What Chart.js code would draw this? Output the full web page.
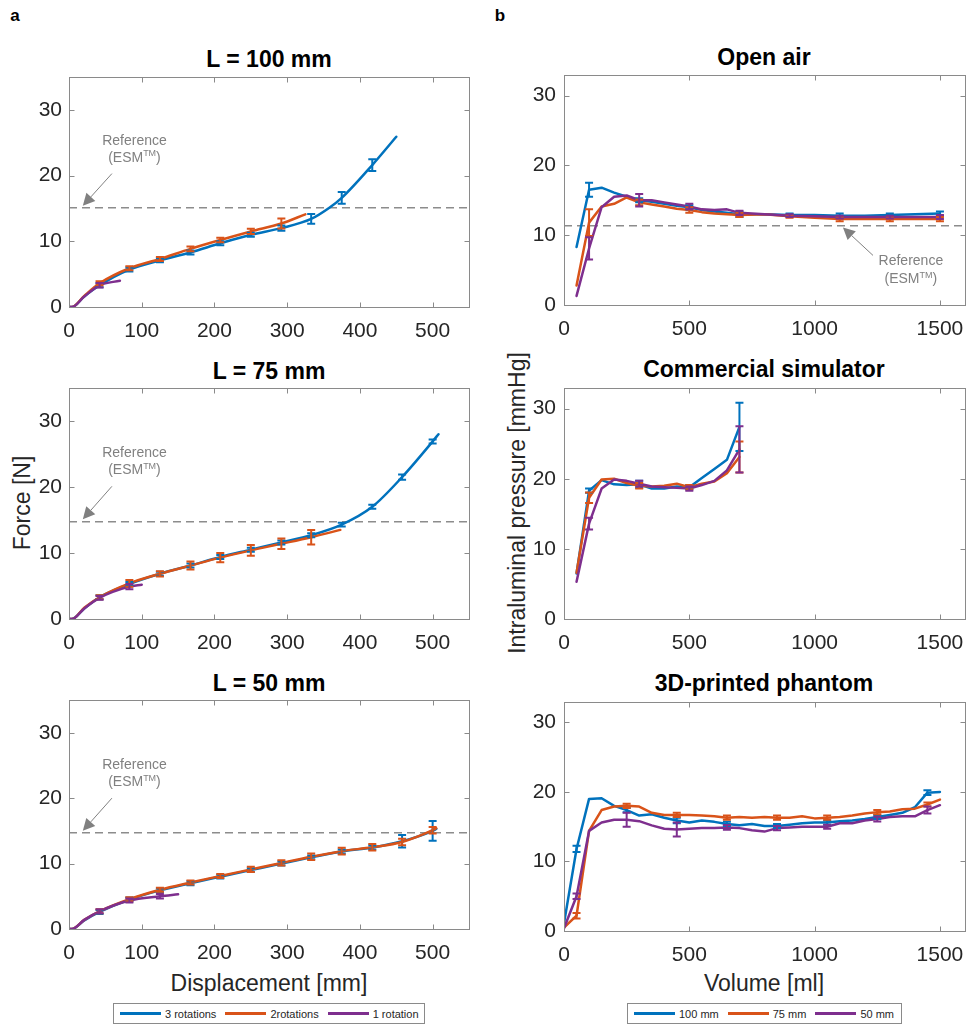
<!DOCTYPE html>
<html>
<head>
<meta charset="utf-8">
<script src="https://cdn.jsdelivr.net/npm/chart.js@4.4.0/dist/chart.umd.min.js"></script>
<style>
  html, body { margin: 0; padding: 0; background: #fff; overflow: hidden; }
  body { width: 970px; height: 1027px; position: relative; font-family: "Liberation Sans", Arial, Helvetica, sans-serif; color: #000; }
  canvas { position: absolute; }
  .txt { position: absolute; transform: translate(-50%, -50%); white-space: nowrap; line-height: 1; }
  .panel { font-weight: bold; font-size: 17px; }
  .title { font-weight: bold; font-size: 23px; }
  .axis { font-size: 23px; color: #262626; }
  .rot { transform: translate(-50%, -50%) rotate(-90deg); }
  .legend { position: absolute; height: 21px; border: 1px solid #8a8a8a; background: #fff; display: flex; align-items: center; font-size: 11px; color: #262626; box-sizing: border-box; padding-left: 6px; white-space: nowrap; }
  .legend .sample { flex: 0 0 41px; height: 2.5px; margin-right: 4px; }
  .legend .name { flex: 0 0 auto; margin-right: 9px; }
</style>
</head>
<body>

<div class="txt panel" style="left:15px; top:15px;">a</div>
<div class="txt panel" style="left:500px; top:15px;">b</div>

<div class="txt title" style="left:269px; top:59px;">L = 100 mm</div>
<div class="txt title" style="left:269px; top:371px;">L = 75 mm</div>
<div class="txt title" style="left:269px; top:683px;">L = 50 mm</div>
<div class="txt title" style="left:764px; top:57px;">Open air</div>
<div class="txt title" style="left:764px; top:369px;">Commercial simulator</div>
<div class="txt title" style="left:764px; top:683px;">3D-printed phantom</div>

<div class="txt axis rot" style="left:22px; top:503px;">Force [N]</div>
<div class="txt axis rot" style="left:517px; top:503px;">Intraluminal pressure [mmHg]</div>
<div class="txt axis" style="left:269px; top:983px;">Displacement [mm]</div>
<div class="txt axis" style="left:764px; top:983px;">Volume [ml]</div>

<canvas id="cL100"></canvas>
<canvas id="cL75"></canvas>
<canvas id="cL50"></canvas>
<canvas id="cOpen"></canvas>
<canvas id="cSim"></canvas>
<canvas id="cPhantom"></canvas>

<div class="legend" id="legLeft" style="left:113px; top:1003px; width:312px;"></div>
<div class="legend" id="legRight" style="left:627px; top:1003px; width:275px;"></div>

<script>
// series names and colours (MATLAB default order)
var seriesLeft = ['3 rotations', '2rotations', '1 rotation'];
var seriesRight = ['100 mm', '75 mm', '50 mm'];
var colors = ['#0072BD', '#D95319', '#7E2F8E'];

// axis ticks
var forceTicks = [0, 10, 20, 30];
var dispTicks = [0, 100, 200, 300, 400, 500];
var pressTicks = [0, 10, 20, 30];
var volTicks = [0, 500, 1000, 1500];

// ---- a: force vs displacement ----
// L = 100 mm
var d100Blue = [0, 4, 21, 42, 83, 125, 167, 208, 250, 292, 333, 358, 375, 417, 450];
var f100Blue = [0, 0, 1.6, 3.3, 5.7, 7.1, 8.3, 9.7, 11.0, 12.0, 13.4, 15.1, 16.6, 21.6, 25.9];
var d100Orange = [0, 4, 21, 42, 83, 125, 167, 208, 250, 292, 325];
var f100Orange = [0, 0, 1.7, 3.6, 5.9, 7.3, 8.85, 10.2, 11.5, 12.7, 14.1];
var d100Purple = [0, 4, 21, 42, 70];
var f100Purple = [0, 0, 1.6, 3.3, 4.0];
var errX100Blue = [42, 83, 125, 167, 208, 250, 292, 333, 375, 417];
var err100Blue = [0.3, 0.3, 0.3, 0.3, 0.3, 0.3, 0.4, 0.75, 0.9, 0.9];
var errX100Orange = [42, 83, 125, 167, 208, 250, 292];
var err100Orange = [0.3, 0.3, 0.3, 0.35, 0.35, 0.4, 0.75];
var errX100Purple = [42];
var err100Purple = [0.35];
var ref100 = 15.1;

// L = 75 mm
var d75Blue = [0, 4, 21, 42, 83, 125, 167, 208, 250, 292, 333, 375, 417, 458, 500, 508];
var f75Blue = [0, 0, 1.6, 3.3, 5.3, 6.85, 8.1, 9.4, 10.5, 11.6, 12.7, 14.3, 17.0, 21.5, 26.9, 28.0];
var d75Orange = [0, 4, 21, 42, 83, 125, 167, 208, 250, 292, 333, 373];
var f75Orange = [0, 0, 1.7, 3.3, 5.4, 6.85, 8.1, 9.3, 10.4, 11.4, 12.4, 13.5];
var d75Purple = [0, 4, 21, 42, 83, 100];
var f75Purple = [0, 0, 1.6, 3.2, 4.9, 5.2];
var errX75Blue = [42, 83, 125, 167, 208, 250, 292, 333, 375, 417, 458, 500];
var err75Blue = [0.3, 0.3, 0.3, 0.3, 0.3, 0.3, 0.3, 0.3, 0.3, 0.3, 0.4, 0.3];
var errX75Orange = [42, 83, 125, 167, 208, 250, 292, 333];
var err75Orange = [0.3, 0.5, 0.4, 0.6, 0.7, 0.8, 0.8, 1.1];
var errX75Purple = [42, 83];
var err75Purple = [0.3, 0.4];
var ref75 = 14.75;

// L = 50 mm
var d50Blue = [0, 4, 21, 42, 83, 125, 167, 208, 250, 292, 333, 375, 417, 458, 500, 505];
var f50Blue = [0, 0, 1.3, 2.6, 4.5, 5.9, 7.0, 8.0, 9.0, 10.0, 10.95, 11.85, 12.45, 13.4, 15.0, 15.3];
var d50Orange = [0, 4, 21, 42, 83, 125, 167, 208, 250, 292, 333, 375, 417, 458, 500, 505];
var f50Orange = [0, 0, 1.4, 2.7, 4.55, 6.0, 7.1, 8.1, 9.1, 10.1, 11.05, 11.9, 12.5, 13.3, 15.1, 15.4];
var d50Purple = [0, 4, 21, 42, 83, 125, 150];
var f50Purple = [0, 0, 1.4, 2.7, 4.35, 5.0, 5.3];
var errX50Blue = [42, 83, 125, 167, 208, 250, 292, 333, 375, 417, 458, 500];
var err50Blue = [0.3, 0.3, 0.3, 0.3, 0.3, 0.3, 0.3, 0.3, 0.3, 0.3, 0.95, 1.5];
var errX50Orange = [42, 83, 125, 167, 208, 250, 292, 333, 375, 417, 458, 500];
var err50Orange = [0.3, 0.3, 0.3, 0.3, 0.3, 0.4, 0.4, 0.5, 0.5, 0.5, 0.5, 0.5];
var errX50Purple = [42, 83, 125];
var err50Purple = [0.3, 0.3, 0.35];
var ref50 = 14.7;

// ---- b: pressure vs volume ----
// Open air
var volOpen = [50, 100, 150, 200, 250, 300, 350, 400, 450, 500, 550, 600, 650, 700, 800, 900, 1000, 1100, 1200, 1300, 1400, 1500];
var pOpenBlue = [8.3, 16.5, 16.8, 16.1, 15.5, 15.0, 14.8, 14.5, 14.2, 14.0, 13.6, 13.4, 13.2, 13.0, 13.0, 12.9, 12.9, 12.8, 12.8, 12.9, 13.0, 13.1];
var pOpenOrange = [2.8, 11.8, 14.1, 14.5, 15.4, 14.7, 14.4, 14.1, 13.8, 13.6, 13.3, 13.1, 13.0, 12.9, 13.0, 12.7, 12.5, 12.3, 12.3, 12.3, 12.3, 12.3];
var pOpenPurple = [1.3, 8.1, 14.0, 15.5, 15.7, 15.0, 15.0, 14.7, 14.4, 14.1, 13.7, 13.6, 13.7, 13.2, 13.0, 12.8, 12.7, 12.6, 12.6, 12.6, 12.6, 12.6];
var errXOpen = [100, 300, 500, 700, 900, 1100, 1300, 1500];
var errOpenBlue = [1.0, 0.3, 0.3, 0.4, 0.2, 0.3, 0.2, 0.3];
var errOpenOrange = [1.9, 0.4, 0.4, 0.3, 0.2, 0.3, 0.3, 0.3];
var errOpenPurple = [1.6, 0.9, 0.4, 0.3, 0.2, 0.2, 0.2, 0.3];
var refOpen = 11.35;

// Commercial simulator
var volSim = [50, 100, 150, 200, 250, 300, 350, 400, 450, 500, 550, 600, 650, 700];
var pSimBlue = [6.5, 18.3, 19.8, 19.2, 19.1, 19.2, 18.6, 18.6, 18.9, 18.8, 20.1, 21.4, 22.7, 27.4];
var pSimOrange = [6.6, 17.3, 19.9, 20.0, 19.4, 19.0, 18.9, 19.0, 19.3, 18.8, 19.3, 19.6, 20.8, 23.1];
var pSimPurple = [5.3, 13.6, 18.6, 19.9, 19.7, 19.3, 18.9, 18.8, 18.7, 18.6, 19.1, 19.7, 21.2, 24.2];
var errXSim = [100, 300, 500, 700];
var errSimBlue = [0.3, 0.5, 0.3, 3.45];
var errSimOrange = [0.75, 0.4, 0.3, 2.2];
var errSimPurple = [0.85, 0.4, 0.3, 3.3];

// 3D-printed phantom
var volPh = [0, 50, 100, 150, 200, 250, 300, 350, 400, 450, 500, 550, 600, 650, 700, 750, 800, 850, 900, 950, 1000, 1050, 1100, 1150, 1200, 1250, 1300, 1350, 1400, 1450, 1500];
var pPhBlue = [1.1, 11.8, 19.0, 19.1, 18.0, 17.4, 16.6, 16.8, 16.3, 15.9, 15.6, 15.9, 15.7, 15.4, 15.2, 15.4, 15.1, 15.1, 15.3, 15.5, 15.6, 15.6, 15.8, 15.9, 16.1, 16.4, 16.7, 17.0, 17.8, 19.9, 20.0];
var pPhOrange = [0.5, 2.2, 14.4, 17.4, 17.9, 18.0, 17.9, 17.0, 16.7, 16.7, 16.7, 16.6, 16.5, 16.3, 16.4, 16.3, 16.4, 16.3, 16.3, 16.5, 16.2, 16.3, 16.4, 16.6, 16.9, 17.1, 17.2, 17.5, 17.6, 18.2, 18.9];
var pPhPurple = [0.4, 5.0, 14.4, 15.6, 16.0, 16.0, 15.8, 15.2, 14.7, 14.6, 14.7, 14.8, 14.8, 14.9, 14.8, 14.5, 14.3, 14.8, 14.9, 15.0, 15.0, 15.0, 15.5, 15.5, 15.9, 16.1, 16.4, 16.5, 16.5, 17.4, 18.1];
var errXPh = [50, 250, 450, 650, 850, 1050, 1250, 1450];
var errPhBlue = [0.45, 0.3, 0.4, 0.3, 0.3, 0.3, 0.3, 0.35];
var errPhOrange = [0.4, 0.3, 0.3, 0.3, 0.3, 0.3, 0.3, 0.3];
var errPhPurple = [0.4, 1.0, 1.0, 0.35, 0.3, 0.3, 0.35, 0.5];


var FONT = '"Liberation Sans", Arial, Helvetica, sans-serif';
var TXT = '#262626';
var GRAY = '#8a8a8a';

function pts(xs, ys) {
  return xs.map(function (x, i) { return { x: x, y: ys[i] }; });
}

function series(xs, ys, i, errX, errV, smooth) {
  return {
    data: pts(xs, ys),
    borderColor: colors[i],
    backgroundColor: colors[i],
    borderWidth: 2.5,
    pointRadius: 0,
    fill: false,
    borderCapStyle: 'round',
    borderJoinStyle: 'round',
    cubicInterpolationMode: smooth ? 'monotone' : 'default',
    tension: 0,
    order: 3 - i,
    errX: errX,
    errV: errV
  };
}

function refLine(y, xmax) {
  return {
    data: [{ x: 0, y: y }, { x: xmax, y: y }],
    borderColor: '#8c8c8c',
    borderWidth: 1.5,
    borderDash: [8, 5],
    pointRadius: 0,
    fill: false,
    order: 10
  };
}

// "Reference (ESM TM)" notes, anchored in data coordinates
var notes = {
  cL100: { tx: 90, ty1: 25.3, ty2: 22.7, ax0: 59, ay0: 20.3, ax1: 19, ay1: 15.4 },
  cL75: { tx: 90, ty1: 25.1, ty2: 22.5, ax0: 59, ay0: 20.1, ax1: 19, ay1: 15.1 },
  cL50: { tx: 90, ty1: 25.0, ty2: 22.4, ax0: 59, ay0: 20.0, ax1: 19, ay1: 15.0 },
  cOpen: { tx: 1384, ty1: 6.3, ty2: 3.7, ax0: 1233, ay0: 7.1, ax1: 1113, ay1: 11.1 }
};

var extras = {
  id: 'extras',
  afterDatasetsDraw: function (chart) {
    var ctx = chart.ctx, xs = chart.scales.x, ys = chart.scales.y;
    ctx.save();
    // error bars
    chart.data.datasets.forEach(function (ds) {
      if (!ds.errX) return;
      ctx.strokeStyle = ds.borderColor;
      ctx.lineWidth = 2;
      ctx.lineCap = 'butt';
      ds.errX.forEach(function (ex, i) {
        var pt = ds.data.find(function (p) { return p.x === ex; });
        if (!pt) return;
        var px = xs.getPixelForValue(ex);
        var top = ys.getPixelForValue(pt.y + ds.errV[i]);
        var bot = ys.getPixelForValue(pt.y - ds.errV[i]);
        ctx.beginPath();
        ctx.moveTo(px, top); ctx.lineTo(px, bot);
        ctx.moveTo(px - 4, top); ctx.lineTo(px + 4, top);
        ctx.moveTo(px - 4, bot); ctx.lineTo(px + 4, bot);
        ctx.stroke();
      });
    });

    // reference note
    var n = notes[chart.canvas.id];
    if (n) {
      ctx.fillStyle = '#808080';
      ctx.strokeStyle = '#808080';
      ctx.textBaseline = 'middle';
      ctx.textAlign = 'left';
      var cx = xs.getPixelForValue(n.tx);
      ctx.font = '14px ' + FONT;
      var w1 = ctx.measureText('Reference').width;
      ctx.fillText('Reference', cx - w1 / 2, ys.getPixelForValue(n.ty1));
      var y2 = ys.getPixelForValue(n.ty2);
      var wa = ctx.measureText('(ESM').width;
      var wc = ctx.measureText(')').width;
      ctx.font = '9px ' + FONT;
      var wb = ctx.measureText('TM').width;
      var x0 = cx - (wa + wb + wc) / 2;
      ctx.font = '14px ' + FONT;
      ctx.fillText('(ESM', x0, y2);
      ctx.fillText(')', x0 + wa + wb, y2);
      ctx.font = '9px ' + FONT;
      ctx.fillText('TM', x0 + wa, y2 - 4);

      // arrow
      var sx = xs.getPixelForValue(n.ax0), sy = ys.getPixelForValue(n.ay0);
      var ex2 = xs.getPixelForValue(n.ax1), ey = ys.getPixelForValue(n.ay1);
      var ang = Math.atan2(ey - sy, ex2 - sx);
      var hl = 12, hw = 6;
      var bx = ex2 - hl * Math.cos(ang), by = ey - hl * Math.sin(ang);
      ctx.lineWidth = 1;
      ctx.beginPath();
      ctx.moveTo(sx, sy); ctx.lineTo(bx, by);
      ctx.stroke();
      ctx.beginPath();
      ctx.moveTo(ex2, ey);
      ctx.lineTo(bx + hw * Math.sin(ang), by - hw * Math.cos(ang));
      ctx.lineTo(bx - hw * Math.sin(ang), by + hw * Math.cos(ang));
      ctx.closePath();
      ctx.fill();
    }
    ctx.restore();
  },
  afterDraw: function (chart) {
    // MATLAB style box with inward ticks on all sides
    var ctx = chart.ctx, a = chart.chartArea, xs = chart.scales.x, ys = chart.scales.y;
    var L = Math.round(a.left) + 0.5, R = Math.round(a.right) + 0.5;
    var T = Math.round(a.top) + 0.5, B = Math.round(a.bottom) + 0.5;
    ctx.save();
    ctx.strokeStyle = GRAY;
    ctx.lineWidth = 1;
    ctx.strokeRect(L, T, R - L, B - T);
    ctx.beginPath();
    xs.ticks.forEach(function (t) {
      var px = Math.round(xs.getPixelForValue(t.value)) + 0.5;
      ctx.moveTo(px, B); ctx.lineTo(px, B - 5);
      ctx.moveTo(px, T); ctx.lineTo(px, T + 5);
    });
    ys.ticks.forEach(function (t) {
      var py = Math.round(ys.getPixelForValue(t.value)) + 0.5;
      ctx.moveTo(L, py); ctx.lineTo(L + 5, py);
      ctx.moveTo(R, py); ctx.lineTo(R - 5, py);
    });
    ctx.stroke();
    ctx.restore();
  }
};

// plot-area placement of each panel (left, top, width, height of the axes box)
var WY = 60, PADTOP = 20, PADRIGHT = 14, HX = 45;

function makeChart(id, box, datasets, xMax, xTicks, yMax, yTicks, yPad) {
  var cv = document.getElementById(id);
  var w = WY + box[2] + PADRIGHT, h = PADTOP + box[3] + HX;
  cv.width = w; cv.height = h;
  cv.style.left = (box[0] - WY) + 'px';
  cv.style.top = (box[1] - PADTOP) + 'px';
  cv.style.width = w + 'px';
  cv.style.height = h + 'px';
  return new Chart(cv, {
    type: 'line',
    data: { datasets: datasets },
    options: {
      responsive: false,
      animation: false,
      devicePixelRatio: 1,
      layout: { padding: { top: PADTOP, right: PADRIGHT, left: 0, bottom: 0 } },
      plugins: { legend: { display: false }, tooltip: { enabled: false }, title: { display: false } },
      scales: {
        x: {
          type: 'linear', min: 0, max: xMax,
          afterBuildTicks: function (s) { s.ticks = xTicks.map(function (v) { return { value: v }; }); },
          afterFit: function (s) { s.height = HX; },
          grid: { display: false, drawTicks: false },
          border: { display: false },
          ticks: { font: { family: FONT, size: 21 }, color: TXT, padding: 12, maxRotation: 0, autoSkip: false,
                   callback: function (v) { return String(v); } }
        },
        y: {
          type: 'linear', min: 0, max: yMax,
          afterBuildTicks: function (s) { s.ticks = yTicks.map(function (v) { return { value: v }; }); },
          afterFit: function (s) { s.width = WY; },
          grid: { display: false, drawTicks: false },
          border: { display: false },
          ticks: { font: { family: FONT, size: 21 }, color: TXT, padding: yPad, autoSkip: false,
                   callback: function (v) { return String(v); } }
        }
      }
    },
    plugins: [extras]
  });
}

makeChart('cL100', [69, 77, 400, 230], [
  series(d100Blue, f100Blue, 0, errX100Blue, err100Blue, true),
  series(d100Orange, f100Orange, 1, errX100Orange, err100Orange, true),
  series(d100Purple, f100Purple, 2, errX100Purple, err100Purple, true),
  refLine(ref100, 550)
], 550, dispTicks, 35, forceTicks, 7);

makeChart('cL75', [69, 388, 400, 231], [
  series(d75Blue, f75Blue, 0, errX75Blue, err75Blue, true),
  series(d75Orange, f75Orange, 1, errX75Orange, err75Orange, true),
  series(d75Purple, f75Purple, 2, errX75Purple, err75Purple, true),
  refLine(ref75, 550)
], 550, dispTicks, 35, forceTicks, 7);

makeChart('cL50', [69, 700, 400, 229], [
  series(d50Blue, f50Blue, 0, errX50Blue, err50Blue, true),
  series(d50Orange, f50Orange, 1, errX50Orange, err50Orange, true),
  series(d50Purple, f50Purple, 2, errX50Purple, err50Purple, true),
  refLine(ref50, 550)
], 550, dispTicks, 35, forceTicks, 7);

makeChart('cOpen', [564, 74, 401, 231], [
  series(volOpen, pOpenBlue, 0, errXOpen, errOpenBlue, false),
  series(volOpen, pOpenOrange, 1, errXOpen, errOpenOrange, false),
  series(volOpen, pOpenPurple, 2, errXOpen, errOpenPurple, false),
  refLine(refOpen, 1600)
], 1600, volTicks, 33, pressTicks, 8);

makeChart('cSim', [564, 387, 401, 232], [
  series(volSim, pSimBlue, 0, errXSim, errSimBlue, false),
  series(volSim, pSimOrange, 1, errXSim, errSimOrange, false),
  series(volSim, pSimPurple, 2, errXSim, errSimPurple, false)
], 1600, volTicks, 33, pressTicks, 8);

makeChart('cPhantom', [564, 701, 401, 230], [
  series(volPh, pPhBlue, 0, errXPh, errPhBlue, false),
  series(volPh, pPhOrange, 1, errXPh, errPhOrange, false),
  series(volPh, pPhPurple, 2, errXPh, errPhPurple, false)
], 1600, volTicks, 33, pressTicks, 8);

// legends
function buildLegend(id, names) {
  var el = document.getElementById(id);
  names.forEach(function (name, i) {
    var s = document.createElement('span');
    s.className = 'sample';
    s.style.background = colors[i];
    var t = document.createElement('span');
    t.className = 'name';
    t.textContent = name;
    el.appendChild(s);
    el.appendChild(t);
  });
}
buildLegend('legLeft', seriesLeft);
buildLegend('legRight', seriesRight);
</script>
</body>
</html>
